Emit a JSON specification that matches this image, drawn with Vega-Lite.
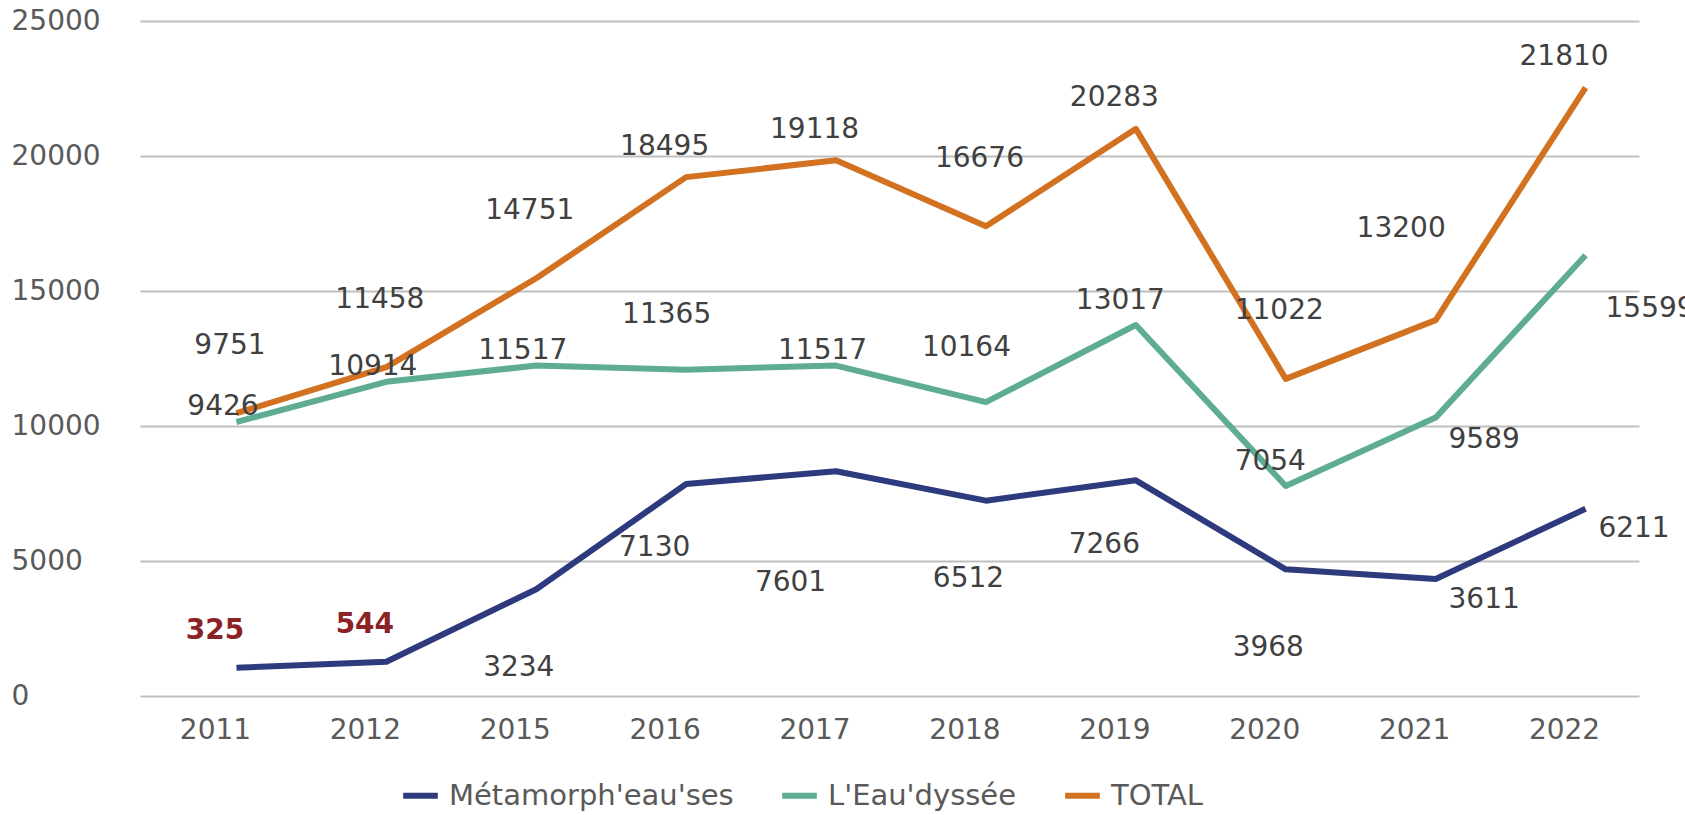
{
  "$schema": "https://vega.github.io/schema/vega-lite/v6.json",
  "width": 1499,
  "height": 675,
  "autosize": {"type": "none"},
  "padding": {"left": 140, "top": 21, "right": 46, "bottom": 119},
  "background": "white",
  "config": {
    "view": {"stroke": null},
    "font": "DejaVu Sans",
    "text": {"font": "DejaVu Sans", "fontSize": 28, "color": "#404040", "align": "center", "baseline": "middle"}
  },
  "data": {
    "values": [
      {"year": "2011", "serie": "Métamorph'eau'ses", "value": 325},
      {"year": "2012", "serie": "Métamorph'eau'ses", "value": 544},
      {"year": "2015", "serie": "Métamorph'eau'ses", "value": 3234},
      {"year": "2016", "serie": "Métamorph'eau'ses", "value": 7130},
      {"year": "2017", "serie": "Métamorph'eau'ses", "value": 7601},
      {"year": "2018", "serie": "Métamorph'eau'ses", "value": 6512},
      {"year": "2019", "serie": "Métamorph'eau'ses", "value": 7266},
      {"year": "2020", "serie": "Métamorph'eau'ses", "value": 3968},
      {"year": "2021", "serie": "Métamorph'eau'ses", "value": 3611},
      {"year": "2022", "serie": "Métamorph'eau'ses", "value": 6211},
      {"year": "2011", "serie": "L'Eau'dyssée", "value": 9426},
      {"year": "2012", "serie": "L'Eau'dyssée", "value": 10914},
      {"year": "2015", "serie": "L'Eau'dyssée", "value": 11517},
      {"year": "2016", "serie": "L'Eau'dyssée", "value": 11365},
      {"year": "2017", "serie": "L'Eau'dyssée", "value": 11517},
      {"year": "2018", "serie": "L'Eau'dyssée", "value": 10164},
      {"year": "2019", "serie": "L'Eau'dyssée", "value": 13017},
      {"year": "2020", "serie": "L'Eau'dyssée", "value": 7054},
      {"year": "2021", "serie": "L'Eau'dyssée", "value": 9589},
      {"year": "2022", "serie": "L'Eau'dyssée", "value": 15599},
      {"year": "2011", "serie": "TOTAL", "value": 9751},
      {"year": "2012", "serie": "TOTAL", "value": 11458},
      {"year": "2015", "serie": "TOTAL", "value": 14751},
      {"year": "2016", "serie": "TOTAL", "value": 18495},
      {"year": "2017", "serie": "TOTAL", "value": 19118},
      {"year": "2018", "serie": "TOTAL", "value": 16676},
      {"year": "2019", "serie": "TOTAL", "value": 20283},
      {"year": "2020", "serie": "TOTAL", "value": 11022},
      {"year": "2021", "serie": "TOTAL", "value": 13200},
      {"year": "2022", "serie": "TOTAL", "value": 21810}
    ]
  },
  "encoding": {
    "x": {
      "field": "year", "type": "ordinal", "sort": null,
      "scale": {"type": "point", "padding": 0.5},
      "axis": {"title": null, "domain": false, "ticks": false, "grid": false, "labelAngle": 0,
               "labelFont": "DejaVu Sans", "labelFontSize": 28, "labelColor": "#595959", "labelPadding": 20}
    },
    "y": {
      "field": "value", "type": "quantitative",
      "scale": {"domain": [0, 25000], "nice": false, "zero": true},
      "axis": {"title": null, "domain": false, "ticks": false, "grid": true, "gridColor": "#BFBFBF", "gridWidth": 2,
               "values": [0, 5000, 10000, 15000, 20000, 25000], "format": "d",
               "labelFont": "DejaVu Sans", "labelFontSize": 28, "labelColor": "#595959",
               "labelAlign": "left", "labelPadding": 129, "labelBaseline": "middle"}
    }
  },
  "layer": [
    {
      "mark": {"type": "line", "strokeWidth": 6, "xOffset": 21.5, "yOffset": -19.5, "strokeJoin": "round"},
      "encoding": {
        "color": {
          "field": "serie", "type": "nominal",
          "scale": {"domain": ["Métamorph'eau'ses", "L'Eau'dyssée", "TOTAL"], "range": ["#2E3A7E", "#5EAD92", "#D2711F"]},
          "legend": {"title": null, "orient": "none", "legendX": 260, "legendY": 754, "direction": "horizontal",
                     "symbolType": "stroke", "symbolStrokeWidth": 6, "symbolSize": 1200,
                     "labelFont": "DejaVu Sans", "labelFontSize": 29, "labelColor": "#595959", "labelLimit": 0,
                     "columnPadding": 36, "labelOffset": 8}
        }
      }
    },
    {"transform": [{"filter": {"and": [{"field": "serie", "equal": "Métamorph'eau'ses"}, {"field": "year", "oneOf": ["2011", "2012"]}]}}],
     "mark": {"type": "text", "dx": 0, "dy": -56, "fontWeight": "bold", "color": "#8B2226"},
     "encoding": {"text": {"field": "value", "type": "quantitative", "format": "d"}}},
    {"transform": [{"filter": {"and": [{"field": "serie", "equal": "Métamorph'eau'ses"}, {"field": "year", "oneOf": ["2015", "2018", "2020"]}]}}],
     "mark": {"type": "text", "dx": 4, "dy": 59},
     "encoding": {"text": {"field": "value", "type": "quantitative", "format": "d"}}},
    {"transform": [{"filter": {"and": [{"field": "serie", "equal": "Métamorph'eau'ses"}, {"field": "year", "oneOf": ["2016", "2019"]}]}}],
     "mark": {"type": "text", "dx": -10, "dy": 45},
     "encoding": {"text": {"field": "value", "type": "quantitative", "format": "d"}}},
    {"transform": [{"filter": {"and": [{"field": "serie", "equal": "Métamorph'eau'ses"}, {"field": "year", "oneOf": ["2017"]}]}}],
     "mark": {"type": "text", "dx": -24, "dy": 92},
     "encoding": {"text": {"field": "value", "type": "quantitative", "format": "d"}}},
    {"transform": [{"filter": {"and": [{"field": "serie", "equal": "Métamorph'eau'ses"}, {"field": "year", "oneOf": ["2021", "2022"]}]}}],
     "mark": {"type": "text", "dx": 70, "dy": 1},
     "encoding": {"text": {"field": "value", "type": "quantitative", "format": "d"}}},
    {"transform": [{"filter": {"and": [{"field": "serie", "equal": "L'Eau'dyssée"}, {"field": "year", "oneOf": ["2011", "2012", "2015", "2017"]}]}}],
     "mark": {"type": "text", "dx": 8, "dy": -34},
     "encoding": {"text": {"field": "value", "type": "quantitative", "format": "d"}}},
    {"transform": [{"filter": {"and": [{"field": "serie", "equal": "L'Eau'dyssée"}, {"field": "year", "oneOf": ["2019", "2020"]}]}}],
     "mark": {"type": "text", "dx": 6, "dy": -44},
     "encoding": {"text": {"field": "value", "type": "quantitative", "format": "d"}}},
    {"transform": [{"filter": {"and": [{"field": "serie", "equal": "L'Eau'dyssée"}, {"field": "year", "oneOf": ["2016", "2018"]}]}}],
     "mark": {"type": "text", "dx": 2, "dy": -74},
     "encoding": {"text": {"field": "value", "type": "quantitative", "format": "d"}}},
    {"transform": [{"filter": {"and": [{"field": "serie", "equal": "L'Eau'dyssée"}, {"field": "year", "oneOf": ["2021"]}]}}],
     "mark": {"type": "text", "dx": 70, "dy": 3},
     "encoding": {"text": {"field": "value", "type": "quantitative", "format": "d"}}},
    {"transform": [{"filter": {"and": [{"field": "serie", "equal": "L'Eau'dyssée"}, {"field": "year", "oneOf": ["2022"]}]}}],
     "mark": {"type": "text", "dx": 86, "dy": 34},
     "encoding": {"text": {"field": "value", "type": "quantitative", "format": "d"}}},
    {"transform": [{"filter": {"and": [{"field": "serie", "equal": "TOTAL"}, {"field": "year", "oneOf": ["2011", "2012", "2015", "2018", "2020"]}]}}],
     "mark": {"type": "text", "dx": 15, "dy": -87},
     "encoding": {"text": {"field": "value", "type": "quantitative", "format": "d"}}},
    {"transform": [{"filter": {"and": [{"field": "serie", "equal": "TOTAL"}, {"field": "year", "oneOf": ["2016", "2017", "2019", "2022"]}]}}],
     "mark": {"type": "text", "dx": 0, "dy": -50},
     "encoding": {"text": {"field": "value", "type": "quantitative", "format": "d"}}},
    {"transform": [{"filter": {"and": [{"field": "serie", "equal": "TOTAL"}, {"field": "year", "oneOf": ["2021"]}]}}],
     "mark": {"type": "text", "dx": -13, "dy": -111},
     "encoding": {"text": {"field": "value", "type": "quantitative", "format": "d"}}}
  ]
}
